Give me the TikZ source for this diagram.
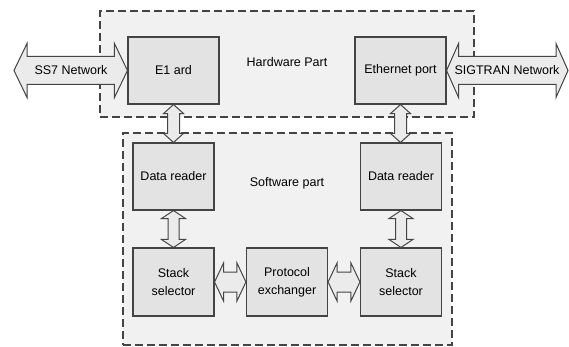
\documentclass[tikz,border=0pt]{standalone}
\usepackage{fontspec}
\setmainfont{Liberation Sans}
\definecolor{regionfill}{HTML}{F1F1F1}
\definecolor{boxfill}{HTML}{E3E3E3}
\definecolor{arrowfill}{HTML}{EBEBEB}
\definecolor{linecol}{HTML}{444444}
\tikzset{
  region/.style={draw=linecol, fill=regionfill, line width=1.2pt, dash pattern=on 8pt off 4pt, inner sep=0pt},
  block/.style={draw=linecol, fill=boxfill, line width=1.1pt, minimum width=81pt, minimum height=67pt, align=center, inner sep=1pt},
  blockarrow/.style={draw=linecol, fill=arrowfill, line width=1pt, line join=miter},
  lbl/.style={inner sep=0pt}
}
\newcommand\hdarrow[5]{%
 \draw[blockarrow] let \p1=#1, \p2=#2 in (\x1,\y1) -- (\x1+#5,\y1+#4) -- (\x1+#5,\y1+#3) -- (\x2-#5,\y1+#3) -- (\x2-#5,\y1+#4) -- (\x2,\y1) -- (\x2-#5,\y1-#4) -- (\x2-#5,\y1-#3) -- (\x1+#5,\y1-#3) -- (\x1+#5,\y1-#4) -- cycle;}
\newcommand\vdarrow[5]{%
 \draw[blockarrow] let \p1=#1, \p2=#2 in (\x1,\y1) -- (\x1+#4,\y1-#5) -- (\x1+#3,\y1-#5) -- (\x1+#3,\y2+#5) -- (\x1+#4,\y2+#5) -- (\x1,\y2) -- (\x1-#4,\y2+#5) -- (\x1-#3,\y2+#5) -- (\x1-#3,\y1-#5) -- (\x1-#4,\y1-#5) -- cycle;}
\usetikzlibrary{calc}
\begin{document}
\begin{tikzpicture}[x=1pt,y=-1pt,font=\fontsize{12.5}{18}\selectfont]
\useasboundingbox[fill=white] (0,0) rectangle (569,347);
% regions
\node[region, minimum width=374pt, minimum height=106pt] (hw) at (287,64) {};
\node[region, minimum width=329pt, minimum height=212pt] (sw) at (287.5,239) {};
\node[lbl] (hwl) at (287,62) {Hardware Part};
\node[lbl] (swl) at (287,183) {Software part};
% blocks
\node[block, minimum width=91pt] (e1) at (173.5,70.5) {E1 ard};
\node[block, minimum width=91pt] (eth) at (400.5,70.5) {Ethernet port};
\node[block] (dr1) at (173.5,176.5) {Data reader};
\node[block] (dr2) at (401,176.5) {Data reader};
\node[block, minimum height=68pt] (ss1) at (173.5,282) {Stack\\selector};
\node[block, minimum height=68pt] (pe) at (287,282) {Protocol\\exchanger};
\node[block, minimum height=68pt] (ss2) at (401,282) {Stack\\selector};
% external ends
\coordinate (ss7tip) at (14,70.5);
\coordinate (sigtip) at (568,70.5);
% arrows
\hdarrow{(ss7tip)}{(e1.west)}{14pt}{27pt}{13pt}
\hdarrow{(eth.east)}{(sigtip)}{14pt}{27pt}{12pt}
\node[lbl] (ss7) at (71,70.5) {SS7 Network};
\node[lbl] (sig) at (507,70.5) {SIGTRAN Network};
\vdarrow{(e1.south)}{(dr1.north)}{6pt}{10pt}{9pt}
\vdarrow{(eth.south)}{(dr2.north)}{6pt}{10pt}{9pt}
\vdarrow{(dr1.south)}{(ss1.north)}{5.5pt}{12pt}{8pt}
\vdarrow{(dr2.south)}{(ss2.north)}{5.5pt}{12pt}{8pt}
\hdarrow{(ss1.east)}{(pe.west)}{10pt}{19pt}{9pt}
\hdarrow{(pe.east)}{(ss2.west)}{10pt}{19pt}{9pt}
\end{tikzpicture}
\end{document}
